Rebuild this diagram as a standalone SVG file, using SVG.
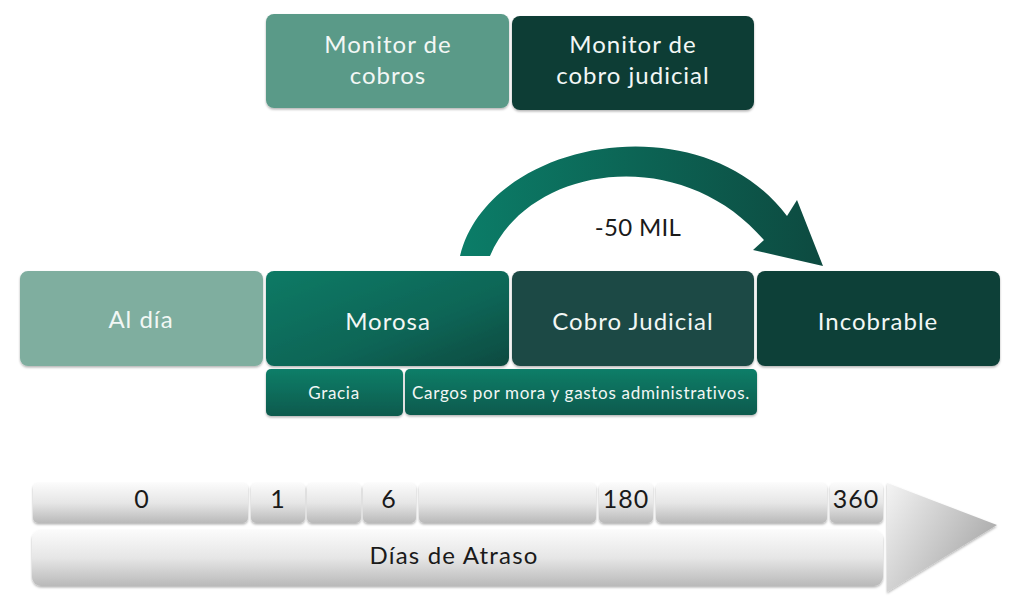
<svg xmlns="http://www.w3.org/2000/svg" width="1024" height="613" viewBox="0 0 1024 613">
<defs>
<style>
.t{font-family:Lato,"Open Sans","Liberation Sans",sans-serif;fill:#f2f7f5;text-anchor:middle;letter-spacing:1px}
.d{font-family:Lato,"Open Sans","Liberation Sans",sans-serif;fill:#1a1a1a;text-anchor:middle;letter-spacing:1px}
.sh{filter:url(#sh)}
</style>
<filter id="sh" x="-5%" y="-5%" width="110%" height="120%"><feDropShadow dx="0" dy="1.5" stdDeviation="1.2" flood-color="#000" flood-opacity="0.3"/></filter>
<linearGradient id="gMor" x1="0" y1="0" x2="1" y2="1"><stop offset="0" stop-color="#0a7a65"/><stop offset="0.6" stop-color="#0c6556"/><stop offset="1" stop-color="#0d4a40"/></linearGradient>
<linearGradient id="gSub" x1="0" y1="0" x2="0" y2="1"><stop offset="0" stop-color="#0b7e68"/><stop offset="1" stop-color="#0c5a4d"/></linearGradient>
<linearGradient id="gArc" x1="0" y1="0" x2="1" y2="0"><stop offset="0" stop-color="#0b7d68"/><stop offset="1" stop-color="#0d4a40"/></linearGradient>
<linearGradient id="gGray" x1="0" y1="0" x2="0" y2="1"><stop offset="0" stop-color="#fbfbfb"/><stop offset="0.5" stop-color="#e6e6e6"/><stop offset="1" stop-color="#b9b9b9"/></linearGradient>
<linearGradient id="gTri" x1="0" y1="0" x2="1" y2="0.6"><stop offset="0" stop-color="#f4f4f4"/><stop offset="1" stop-color="#a8a8a8"/></linearGradient>
</defs>
<rect width="1024" height="613" fill="#ffffff"/>

<g id="monitor-cobros"><rect class="sh" x="266" y="14" width="243" height="94" rx="8" fill="#5a9a88"/><text class="t" font-size="24" x="388" y="53">Monitor de</text><text class="t" font-size="24" x="388" y="84">cobros</text></g>
<g id="monitor-judicial"><rect class="sh" x="512" y="16" width="242" height="94" rx="8" fill="#0f3d36"/><text class="t" font-size="24" x="633" y="53">Monitor de</text><text class="t" font-size="24" x="633" y="84">cobro judicial</text></g>

<g id="connectors">
<path d="M460,256 C488,140 700,100 787,216 L797,200 L823,266 L753,250 L764,240 C680,142 528,165 490,256 Z" fill="url(#gArc)"/>
</g>
<text class="d" font-size="24" x="638" y="236" fill="#1a2a28" style="letter-spacing:0.3px">-50 MIL</text>

<g id="al-dia"><rect class="sh" x="20" y="271" width="243" height="95" rx="8" fill="#7fae9f"/><text class="t" font-size="24" x="141" y="328">Al día</text></g>
<g id="morosa"><rect class="sh" x="266" y="271" width="243" height="95" rx="8" fill="url(#gMor)"/><text class="t" font-size="24" x="388" y="330">Morosa</text></g>
<g id="cobro-judicial"><rect class="sh" x="512" y="271" width="242" height="95" rx="8" fill="#1f4a44"/><text class="t" font-size="24" x="633" y="330">Cobro Judicial</text></g>
<g id="incobrable"><rect class="sh" x="757" y="271" width="243" height="95" rx="8" fill="#0d3f37"/><text class="t" font-size="24" x="878" y="330">Incobrable</text></g>

<g id="gracia"><rect class="sh" x="266" y="369" width="137" height="47" rx="5" fill="url(#gSub)"/><text class="t" font-size="17" x="334" y="399" style="letter-spacing:0.7px">Gracia</text></g>
<g id="cargos"><rect class="sh" x="405" y="369" width="352" height="46" rx="5" fill="url(#gSub)"/><text class="t" font-size="17" x="581" y="399" style="letter-spacing:0.7px">Cargos por mora y gastos administrativos.</text></g>

<g id="timeline">
<polygon class="sh" points="887,483 997,525 887,592" fill="url(#gTri)"/>
<rect class="sh" x="32" y="530" width="851" height="56" rx="9" fill="url(#gGray)"/>
<rect class="sh" x="33" y="483" width="215" height="40" rx="5" fill="url(#gGray)"/>
<rect class="sh" x="251" y="483" width="54" height="40" rx="5" fill="url(#gGray)"/>
<rect class="sh" x="307" y="483" width="54" height="40" rx="5" fill="url(#gGray)"/>
<rect class="sh" x="363" y="483" width="53" height="40" rx="5" fill="url(#gGray)"/>
<rect class="sh" x="419" y="483" width="177" height="40" rx="5" fill="url(#gGray)"/>
<rect class="sh" x="599" y="483" width="54" height="40" rx="5" fill="url(#gGray)"/>
<rect class="sh" x="656" y="483" width="171" height="40" rx="5" fill="url(#gGray)"/>
<rect class="sh" x="830" y="483" width="53" height="40" rx="5" fill="url(#gGray)"/>
<text class="d" font-size="25" x="142" y="508">0</text>
<text class="d" font-size="25" x="278" y="508">1</text>
<text class="d" font-size="25" x="389" y="508">6</text>
<text class="d" font-size="25" x="626" y="508">180</text>
<text class="d" font-size="25" x="856" y="508">360</text>
<text class="d" font-size="24" x="454" y="564" style="letter-spacing:1.2px">Días de Atraso</text>
</g>
</svg>
